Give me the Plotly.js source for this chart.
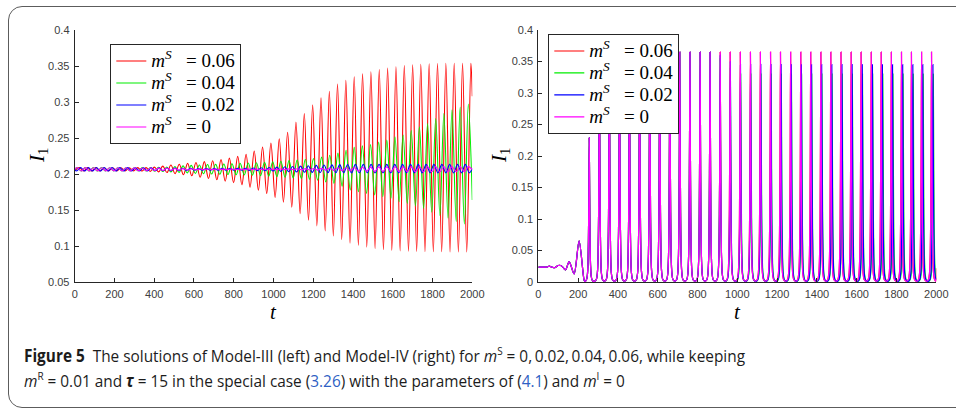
<!DOCTYPE html>
<html>
<head>
<meta charset="utf-8">
<script src="https://cdn.plot.ly/plotly-3.0.1.min.js"></script>
<style>
  body { margin:0; background:#fff; }
  #wrap { position:relative; width:956px; height:411px; overflow:hidden; background:#fff; }
  #plot { position:absolute; left:0; top:0; width:956px; height:411px; }
  #frame { position:absolute; left:8px; top:6px; width:990px; height:400px; border:1.5px solid #5c5c5c; border-radius:14px; pointer-events:none; }
  .cap { position:absolute; left:24px; white-space:nowrap; font-family:"Open Sans","Noto Sans",sans-serif; font-size:17px; line-height:20px; color:#1c1c1c; transform-origin:0 0; }
  .cap b { font-weight:700; }
  .cap sup { font-size:11px; line-height:0; }
  .lnk { color:#2f5fc4; }
</style>
</head>
<body>
<div id="wrap">
  <div id="plot"></div>
  <div id="frame"></div>
  <div class="cap" id="cap1" style="top:346px"><b>Figure 5</b>&nbsp;&nbsp;The solutions of Model-III (left) and Model-IV (right) for <i>m</i><sup>S</sup> = 0,&thinsp;0.02,&thinsp;0.04,&thinsp;0.06, while keeping</div>
  <div class="cap" id="cap2" style="top:371px"><i>m</i><sup>R</sup> = 0.01 and <b><i>τ</i></b> = 15 in the special case (<span class="lnk">3.26</span>) with the parameters of (<span class="lnk">4.1</span>) and <i>m</i><sup>I</sup> = 0</div>
</div>
<script>
// ---------- labels ----------
const seriesLabels = [
  '<i>m</i><sup><i>S</i></sup>\u00a0\u00a0\u00a0= 0.06',
  '<i>m</i><sup><i>S</i></sup>\u00a0\u00a0\u00a0= 0.04',
  '<i>m</i><sup><i>S</i></sup>\u00a0\u00a0\u00a0= 0.02',
  '<i>m</i><sup><i>S</i></sup>\u00a0\u00a0\u00a0= 0'
];
const seriesColors = ['#ff0000', '#00ee00', '#0000ff', '#ff00ff'];
const xTickVals = [0,200,400,600,800,1000,1200,1400,1600,1800,2000];

// ---------- Model-III (left): extrema of I1(t) ----------
const redT = [0,
  24,45,65,86,107,128,149,170,191,212,
  233,254,275,296,317,338,359,380,401,422,
  443,464,484,505,526,547,568,589,610,631,
  652,673,694,715,736,757,778,799,820,841,
  862,882,903,924,945,966,987,1008,1029,1050,
  1071,1092,1113,1134,1155,1176,1197,1218,1239,1260,
  1281,1301,1322,1343,1364,1385,1406,1427,1448,1469,
  1490,1511,1532,1553,1574,1595,1616,1637,1658,1679,
  1700,1720,1741,1762,1783,1804,1825,1846,1867,1888,
  1909,1930,1951,1972,1993,2000];
const redI = [0.2045,
  .2088,.2042,.2088,.2042,.2088,.2042,.2087,.2043,.2087,.2043,
  .2087,.2043,.2087,.2043,.2088,.2041,.2089,.2037,.2095,.2030,
  .2110,.2020,.2125,.2005,.2135,.1990,.2148,.1975,.2160,.1955,
  .2172,.1938,.2185,.1920,.2200,.1900,.2220,.1880,.2245,.1850,
  .2275,.1815,.2320,.1775,.2375,.1730,.2430,.1675,.2490,.1610,
  .2580,.1540,.2720,.1450,.2840,.1360,.2960,.1280,.3060,.1210,
  .3150,.1140,.3250,.1090,.3300,.1040,.3350,.1010,.3390,.0985,
  .3420,.0965,.3450,.0950,.3470,.0940,.3490,.0932,.3505,.0928,
  .3515,.0925,.3525,.0922,.3530,.0920,.3535,.0920,.3537,.0918,
  .3537,.0918,.3537,.0918,.3537,.3080];

const greenT = [0,
  12,33,53,74,94,115,135,156,176,197,
  217,238,258,279,299,320,340,361,381,402,
  422,443,463,484,504,525,545,566,586,607,
  627,648,668,689,709,730,750,771,791,812,
  832,853,873,894,914,935,955,976,996,1017,
  1037,1058,1078,1099,1119,1140,1160,1181,1201,1222,
  1242,1263,1283,1304,1324,1345,1365,1386,1406,1427,
  1447,1468,1488,1509,1529,1550,1570,1591,1611,1632,
  1652,1673,1693,1714,1734,1755,1775,1796,1816,1837,
  1857,1878,1898,1919,1939,1960,1980,2000];
const greenI = [0.2065,
  .2088,.2042,.2088,.2042,.2088,.2042,.2088,.2042,.2087,.2043,
  .2087,.2043,.2087,.2043,.2087,.2043,.2088,.2041,.2090,.2038,
  .2093,.2034,.2098,.2029,.2105,.2022,.2113,.2015,.2120,.2008,
  .2126,.2003,.2131,.1999,.2135,.1996,.2139,.1993,.2143,.1990,
  .2147,.1987,.2152,.1982,.2157,.1977,.2163,.1970,.2170,.1963,
  .2178,.1955,.2186,.1946,.2195,.1937,.2205,.1926,.2216,.1914,
  .2235,.1890,.2260,.1870,.2290,.1830,.2330,.1778,.2370,.1754,
  .2390,.1731,.2410,.1708,.2445,.1685,.2470,.1662,.2515,.1615,
  .2540,.1592,.2605,.1556,.2655,.1523,.2700,.1468,.2770,.1421,
  .2840,.1385,.2890,.1338,.2930,.1306,.2970,.1640];

const blueT = [0,
  10,30,50,69,89,109,129,148,168,188,
  208,227,247,267,287,306,326,346,366,385,
  405,425,445,464,484,504,524,543,563,583,
  603,622,642,662,682,701,721,741,761,780,
  800,820,840,859,879,899,919,938,958,978,
  998,1017,1037,1057,1077,1096,1116,1136,1156,1175,
  1195,1215,1235,1254,1274,1294,1314,1333,1353,1373,
  1393,1412,1432,1452,1472,1491,1511,1531,1551,1570,
  1590,1610,1630,1649,1669,1689,1709,1728,1748,1768,
  1788,1807,1827,1847,1867,1886,1906,1926,1946,1965,
  1985,2000];
const blueI = [0.2065,
  .2042,.2088,.2042,.2088,.2042,.2088,.2042,.2088,.2042,.2088,
  .2042,.2088,.2042,.2088,.2042,.2087,.2043,.2087,.2043,.2087,
  .2045,.2085,.2046,.2084,.2047,.2082,.2049,.2080,.2050,.2079,
  .2052,.2077,.2053,.2077,.2053,.2076,.2054,.2076,.2054,.2076,
  .2053,.2078,.2052,.2080,.2050,.2083,.2047,.2086,.2045,.2090,
  .2041,.2095,.2036,.2100,.2032,.2105,.2028,.2110,.2025,.2115,
  .2022,.2120,.2020,.2124,.2019,.2127,.2018,.2130,.2017,.2132,
  .2016,.2133,.2016,.2134,.2016,.2134,.2016,.2134,.2016,.2134,
  .2016,.2134,.2016,.2134,.2016,.2134,.2016,.2134,.2016,.2134,
  .2016,.2134,.2016,.2134,.2016,.2134,.2016,.2134,.2016,.2134,
  .2016,.2075];

const magT = greenT;
const magI = [0.2065,
  .2088,.2042,.2088,.2042,.2087,.2043,.2087,.2043,.2087,.2043,
  .2086,.2044,.2086,.2044,.2085,.2045,.2084,.2046,.2083,.2047,
  .2081,.2049,.2079,.2051,.2077,.2053,.2075,.2055,.2073,.2057,
  .2071,.2059,.2070,.2060,.2069,.2061,.2068,.2062,.2068,.2062,
  .2068,.2062,.2068,.2062,.2068,.2062,.2068,.2062,.2069,.2061,
  .2070,.2060,.2071,.2059,.2072,.2058,.2074,.2056,.2076,.2054,
  .2078,.2052,.2081,.2049,.2084,.2046,.2087,.2043,.2090,.2040,
  .2093,.2038,.2095,.2036,.2097,.2035,.2099,.2034,.2100,.2033,
  .2101,.2032,.2102,.2032,.2102,.2032,.2102,.2032,.2102,.2032,
  .2102,.2032,.2102,.2032,.2102,.2032,.2102,.2060];

// ---------- Model-IV (right): transient, spike shape, spike peaks ----------
const rEarlyT = [0, 25, 45, 55, 68, 82, 100, 112, 122, 137, 155, 180, 205, 230];
const rEarlyI = [0.0235, 0.0235, 0.0238, 0.0252, 0.0236, 0.0226, 0.0262, 0.0262, 0.0240, 0.0192, 0.0325, 0.0128, 0.0655, 0.0030];
// one spike: time offset from the peak and fraction of peak height
const spikeDt   = [-22, -15, -10, -6.5, -4, -2, 0, 2, 4, 6.5, 10, 15, 22];
const spikeFrac = [0.004, 0.012, 0.04, 0.12, 0.3, 0.62, 1, 0.62, 0.3, 0.12, 0.04, 0.012, 0.004];

const magPeakT = [256,307,357,408,458,509,560,610,661,711,762,813,863,914,964,1015,1066,1116,1167,1217,1268,1319,1369,1420,1470,1521,1572,1622,1673,1723,1774,1825,1875,1926,1976];
const magPeakI = [0.229,0.365,0.365,0.365,0.365,0.365,0.365,0.365,0.365,0.365,0.365,0.365,0.365,0.365,0.365,0.365,0.365,0.365,0.365,0.365,0.365,0.365,0.365,0.365,0.365,0.365,0.365,0.365,0.365,0.365,0.365,0.365,0.365,0.365,0.365];
const redPeakT = [256,307,357,408,458,509,560,610,661,711,762,813,863,914,964,1015,1066,1116,1167,1217,1268,1319,1369,1420,1470,1521,1572,1622,1673,1723,1774,1825,1875,1926,1976];
const redPeakI = [0.229,0.365,0.365,0.365,0.365,0.365,0.365,0.365,0.365,0.365,0.365,0.365,0.365,0.365,0.365,0.365,0.365,0.365,0.365,0.365,0.365,0.365,0.365,0.365,0.365,0.365,0.365,0.365,0.365,0.365,0.365,0.365,0.365,0.365,0.365];
const bluePeakT = [256,307,357,408,458,509,560,610,661,711,762,813,863,914,965,1016,1067,1118,1169,1220,1271,1322,1373,1424,1475,1526,1577,1628,1679,1729,1780,1831,1882,1932,1983];
const bluePeakI = [0.229,0.365,0.365,0.365,0.365,0.365,0.365,0.365,0.365,0.365,0.365,0.365,0.365,0.36,0.35,0.345,0.345,0.345,0.345,0.345,0.345,0.345,0.345,0.345,0.345,0.345,0.345,0.345,0.345,0.345,0.345,0.345,0.345,0.345,0.345];
const greenPeakT = [256,307,357,408,458,509,560,610,661,711,762,813,863,914,965,1017,1068,1119,1170,1221,1272,1323,1374,1425,1476,1527,1578,1629,1680,1731,1782,1833,1884,1934,1985];
const greenPeakI = [0.229,0.365,0.365,0.365,0.365,0.365,0.365,0.365,0.365,0.365,0.365,0.365,0.365,0.355,0.34,0.33,0.33,0.33,0.33,0.33,0.33,0.33,0.33,0.33,0.33,0.33,0.33,0.33,0.33,0.33,0.33,0.33,0.33,0.33,0.33];
const rEndI = [0.022, 0.004, 0.003, 0.006]; // red, green, blue, magenta at t = 2000

function spikeSeries(peakT, peakI, endI) {
  const t = rEarlyT.slice(), y = rEarlyI.slice();
  peakT.forEach((p, i) => {
    spikeDt.forEach((d, j) => {
      if (p + d < 2000) { t.push(p + d); y.push(peakI[i] * spikeFrac[j]); }
    });
  });
  t.push(2000); y.push(endI);
  return {t, y};
}

const leftSets = [[redT, redI], [greenT, greenI], [blueT, blueI], [magT, magI]];
const rightSets = [
  spikeSeries(redPeakT, redPeakI, rEndI[0]),
  spikeSeries(greenPeakT, greenPeakI, rEndI[1]),
  spikeSeries(bluePeakT, bluePeakI, rEndI[2]),
  spikeSeries(magPeakT, magPeakI, rEndI[3])
];

const legendText = s => '<span style="font-size:19px">' + s + '</span>';
const data = [];
leftSets.forEach((s, i) => data.push({
  x: s[0], y: s[1], xaxis: 'x', yaxis: 'y', type: 'scatter', mode: 'lines',
  name: legendText(seriesLabels[i]), legend: 'legend',
  line: {color: seriesColors[i], width: 1.1, shape: 'spline', smoothing: 1}
}));
rightSets.forEach((s, i) => data.push({
  x: s.t, y: s.y, xaxis: 'x2', yaxis: 'y2', type: 'scatter', mode: 'lines',
  name: legendText(seriesLabels[i]), legend: 'legend2',
  line: {color: seriesColors[i], width: 1.2, shape: 'spline', smoothing: 0.8}
}));

const W = 956, H = 411;
const tickFont = {family: 'Liberation Sans, Arial, sans-serif', size: 11, color: '#404040'};
function ax(extra) {
  return Object.assign({
    showline: true, linecolor: '#262626', linewidth: 1, ticks: 'inside', ticklen: 4,
    tickwidth: 1, tickcolor: '#262626', showgrid: false, zeroline: false,
    tickfont: tickFont, fixedrange: true, automargin: false, ticklabelstandoff: 2
  }, extra);
}
const yDom = [1 - 282 / H, 1 - 30 / H];
const legendCommon = {
  xanchor: 'left', yanchor: 'top', bgcolor: '#ffffff', bordercolor: '#262626', borderwidth: 1,
  font: {family: 'Liberation Serif, DejaVu Serif, serif', size: 14.6, color: '#000'},
  itemwidth: 30, tracegroupgap: 0
};
const axTitleFont = {family: 'Liberation Serif, DejaVu Serif, serif', size: 21, color: '#000'};
const layout = {
  width: W, height: H, margin: {l: 0, r: 0, t: 0, b: 0},
  paper_bgcolor: 'rgba(0,0,0,0)', plot_bgcolor: 'rgba(0,0,0,0)',
  showlegend: true,
  xaxis: ax({domain: [74.7 / W, 472.3 / W], range: [0, 2000], tickvals: xTickVals, anchor: 'y'}),
  yaxis: ax({domain: yDom, range: [0.05, 0.4], dtick: 0.05, tick0: 0, anchor: 'x'}),
  xaxis2: ax({domain: [538.3 / W, 936.3 / W], range: [0, 2000], tickvals: xTickVals, anchor: 'y2'}),
  yaxis2: ax({domain: yDom, range: [0, 0.4], dtick: 0.05, tick0: 0, anchor: 'x2'}),
  legend: Object.assign({x: 110.3 / W, y: 1 - 44 / H}, legendCommon),
  legend2: Object.assign({x: 548.3 / W, y: 1 - 34 / H}, legendCommon),
  annotations: [
    {text: '<i>t</i>', x: 273 / W, y: 1 - 312 / H, xref: 'paper', yref: 'paper', showarrow: false, font: axTitleFont, xanchor: 'center', yanchor: 'middle'},
    {text: '<i>t</i>', x: 737 / W, y: 1 - 312 / H, xref: 'paper', yref: 'paper', showarrow: false, font: axTitleFont, xanchor: 'center', yanchor: 'middle'},
    {text: '<i>I</i><sub>1</sub>', x: 38 / W, y: 1 - 156 / H, xref: 'paper', yref: 'paper', showarrow: false, font: axTitleFont, textangle: -90, xanchor: 'center', yanchor: 'middle'},
    {text: '<i>I</i><sub>1</sub>', x: 500 / W, y: 1 - 156 / H, xref: 'paper', yref: 'paper', showarrow: false, font: axTitleFont, textangle: -90, xanchor: 'center', yanchor: 'middle'}
  ]
};
Plotly.newPlot('plot', data, layout, {staticPlot: true, displayModeBar: false});

function fitCaption() {
  const c1 = document.getElementById('cap1'), c2 = document.getElementById('cap2');
  c1.style.transform = 'none'; c2.style.transform = 'none';
  const w = c1.getBoundingClientRect().width;
  const s = 721 / w;
  c1.style.transform = 'scaleX(' + s + ')';
  c2.style.transform = 'scaleX(' + s + ')';
}
if (document.fonts && document.fonts.ready) document.fonts.ready.then(fitCaption); else fitCaption();
fitCaption();
</script>
</body>
</html>
